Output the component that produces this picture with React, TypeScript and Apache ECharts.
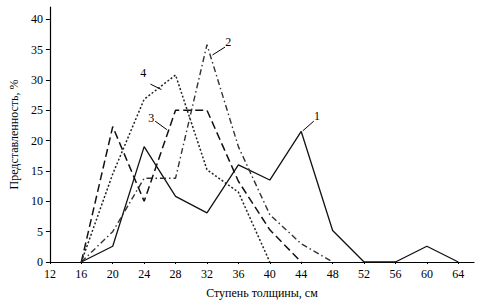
import React, { useEffect, useRef } from "react";
import * as echarts from "echarts";

const xTicks = [12, 16, 20, 24, 28, 32, 36, 40, 44, 48, 52, 56, 60, 64];
const yTicks = [0, 5, 10, 15, 20, 25, 30, 35, 40];

const s1X = [16, 20, 24, 28, 32, 36, 40, 44, 48, 52, 56, 60, 64];
const s1Y = [0, 2.6, 19, 10.8, 8.1, 16, 13.5, 21.5, 5.2, 0, 0, 2.6, 0];
const s2X = [16, 20, 24, 28, 32, 36, 40, 44, 48];
const s2Y = [0, 5, 13.8, 13.8, 35.8, 19, 7.8, 3, 0];
const s3X = [16, 20, 24, 28, 32, 36, 40, 44];
const s3Y = [0, 22.3, 10, 25, 25, 13.3, 5.3, 0];
const s4X = [16, 20, 24, 28, 32, 36, 40];
const s4Y = [0, 14.5, 26.8, 30.8, 15.2, 11.5, 0];

const seriesNames = ["1", "2", "3", "4"];
// label anchor positions in data coordinates: [textX, textY, lineX1, lineY1, lineX2, lineY2]
const labelAnchors = [
  [46.0, 24.1, 44.2, 21.6, 45.6, 23.2],
  [34.7, 36.2, 32.7, 34.1, 34.3, 35.4],
  [24.9, 23.8, 25.4, 23.2, 26.9, 21.8],
  [23.9, 31.2, 24.8, 29.3, 26.2, 28.4],
];

const FONT = "Liberation Serif";

function pairs(xs: number[], ys: number[]) {
  return xs.map((x, i) => [x, ys[i]]);
}

export default function App() {
  const ref = useRef<HTMLDivElement>(null);
  useEffect(() => {
    document.body.style.margin = "0";
    if (!ref.current) return;
    const chart = echarts.init(ref.current, undefined, { renderer: "svg" });
    const lineBase = { type: "line", symbol: "none", animation: false };
    chart.setOption({
      animation: false,
      grid: { left: 44, right: 5, top: 7, bottom: 37, containLabel: false },
      xAxis: {
        type: "value",
        min: 12,
        max: 66,
        interval: 2,
        name: "Ступень толщины, см",
        nameLocation: "middle",
        nameGap: 25,
        nameTextStyle: { fontFamily: FONT, fontSize: 12, color: "#000" },
        axisLine: { lineStyle: { color: "#000", width: 1.2 } },
        axisTick: { show: true, length: 2, customValues: xTicks, lineStyle: { color: "#000" } },
        axisLabel: { customValues: xTicks, fontFamily: FONT, fontSize: 12, color: "#000", margin: 6 },
        splitLine: { show: false },
      },
      yAxis: {
        type: "value",
        min: 0,
        max: 42,
        interval: 1,
        name: "Представленность, %",
        nameLocation: "middle",
        nameGap: 24,
        nameTextStyle: { fontFamily: FONT, fontSize: 12, color: "#000" },
        axisLine: { show: true, lineStyle: { color: "#000", width: 1.2 } },
        axisTick: { show: true, length: 4, customValues: yTicks, lineStyle: { color: "#000" } },
        axisLabel: { customValues: yTicks, fontFamily: FONT, fontSize: 12, color: "#000", margin: 7 },
        splitLine: { show: false },
      },
      series: [
        { ...lineBase, name: seriesNames[0], data: pairs(s1X, s1Y), lineStyle: { color: "#111", width: 1.3, type: "solid" } },
        { ...lineBase, name: seriesNames[1], data: pairs(s2X, s2Y), lineStyle: { color: "#333", width: 1.4, type: [6, 3, 1.5, 3] } },
        { ...lineBase, name: seriesNames[2], data: pairs(s3X, s3Y), lineStyle: { color: "#111", width: 1.5, type: [8, 4] } },
        { ...lineBase, name: seriesNames[3], data: pairs(s4X, s4Y), lineStyle: { color: "#222", width: 1.5, type: [2, 2] } },
      ],
    });
    const graphics: any[] = [];
    labelAnchors.forEach((a, i) => {
      const t = chart.convertToPixel({ gridIndex: 0 }, [a[0], a[1]]) as number[];
      const p1 = chart.convertToPixel({ gridIndex: 0 }, [a[2], a[3]]) as number[];
      const p2 = chart.convertToPixel({ gridIndex: 0 }, [a[4], a[5]]) as number[];
      graphics.push({
        type: "text",
        x: t[0],
        y: t[1],
        style: { text: seriesNames[i], fontFamily: FONT, fontSize: 12, fill: "#000", align: "center", verticalAlign: "middle" },
      });
      graphics.push({
        type: "line",
        shape: { x1: p1[0], y1: p1[1], x2: p2[0], y2: p2[1] },
        style: { stroke: "#000", lineWidth: 1 },
      });
    });
    chart.setOption({ graphic: graphics });
    return () => chart.dispose();
  }, []);
  return <div ref={ref} style={{ width: 479, height: 304 }} />;
}
